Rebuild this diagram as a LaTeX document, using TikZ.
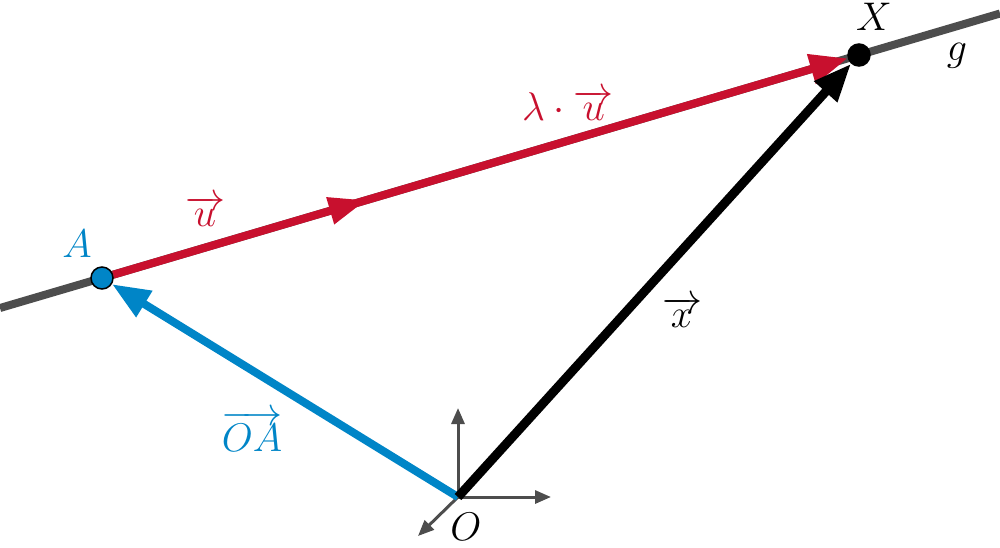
\RequirePackage{fix-cm}
\documentclass[tikz,border=0pt]{standalone}
\usetikzlibrary{arrows.meta,decorations.markings}
\definecolor{vred}{RGB}{200,16,46}
\definecolor{vblue}{RGB}{0,133,199}
\definecolor{vgray}{RGB}{77,77,77}
\begin{document}
\begin{tikzpicture}[x=1pt,y=-1pt,
  lab/.style={font=\fontsize{40}{48}\selectfont, inner sep=0pt},
  pt/.style={circle, draw=black, line width=1.5pt, minimum size=22pt, inner sep=0pt},
  vec/.style={line width=8pt, -{Triangle[length=38pt,width=29pt]}},
  axis/.style={vgray, line width=3pt, -{Triangle[length=16pt,width=13pt]}},
  midarrow/.style={postaction={decorate}, decoration={markings,
     mark=at position #1 with {\arrow{Triangle[length=38pt,width=26pt]}}}}]
\useasboundingbox (0,0) rectangle (1000,547);
% line g
\coordinate (g1) at (0,308);
\coordinate (g2) at (1000,13.5);
\draw[vgray, line width=8pt] (g1) -- (g2);
% axes at O
\coordinate (O) at (458,497);
\coordinate (Oy) at (458,408);
\coordinate (Ox) at (551,497);
\coordinate (Oz) at (418,536);
\draw[axis] (O) -- (Oy);
\draw[axis] (O) -- (Ox);
\draw[axis] (O) -- (Oz);
% points
\node[pt, fill=vblue] (A) at (102,278) {};
\node[pt, fill=black] (X) at (859,55) {};
% vectors
\draw[vec, vblue] (O) -- (A);
\draw[vec, vred, midarrow=0.345] (A) -- (X);
\draw[vec, black, line width=9pt] (O) -- (X);
% labels
\node[lab, text=vblue] (lA) at (77,244) {$A$};
\node[lab] (lX) at (874,17) {$X$};
\node[lab] (lg) at (957,56) {$g$};
\node[lab, text=vred] (lu) at (205,211) {$\overrightarrow{u}$};
\node[lab, text=vred] (llu) at (568,105) {$\lambda\cdot\overrightarrow{u}$};
\node[lab, text=vblue] (lOA) at (252,431) {$\overrightarrow{OA}$};
\node[lab] (lx) at (682,312) {$\overrightarrow{x}$};
\node[lab] (lO) at (466,527) {$O$};
\end{tikzpicture}
\end{document}
